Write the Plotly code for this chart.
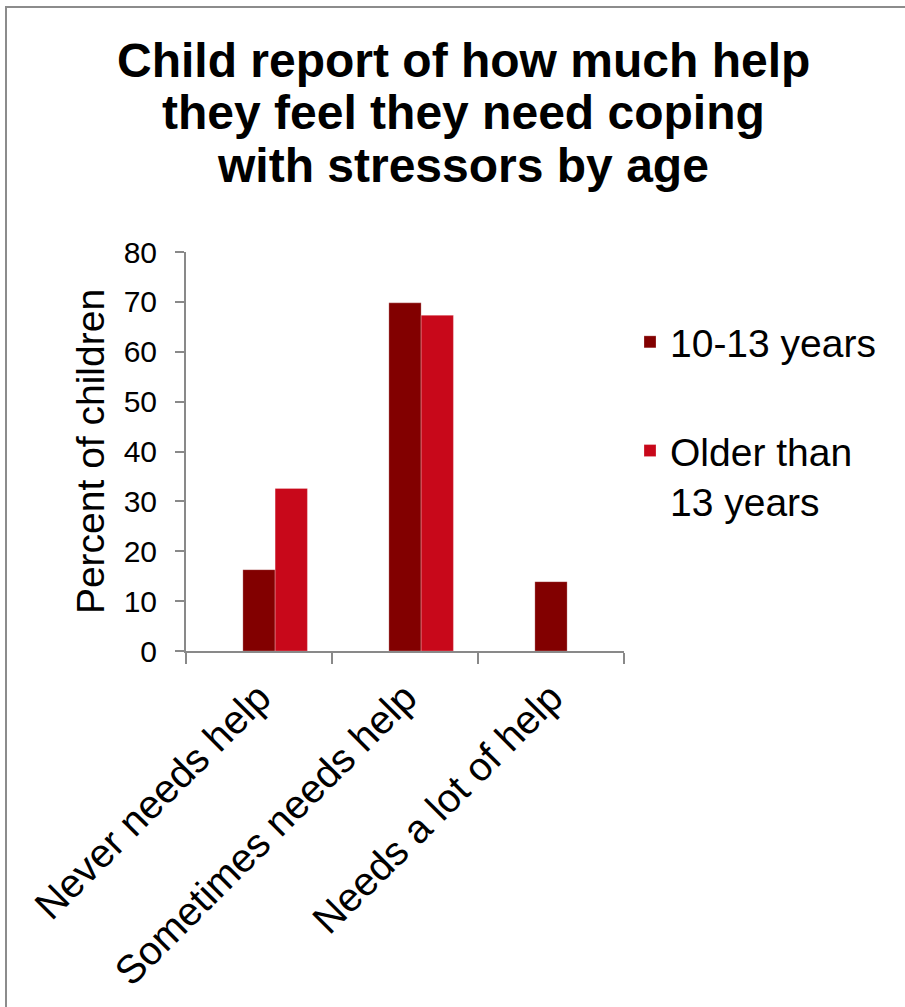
import plotly.graph_objects as go

# ---- data -------------------------------------------------------------
categories = ["Never needs help", "Sometimes needs help", "Needs a lot of help"]
age_10_13 = [16.3, 69.8, 13.9]
older_13 = [32.6, 67.3, None]
series_names = ["10-13 years", "Older than<br>13 years"]
y_ticks = [0, 10, 20, 30, 40, 50, 60, 70, 80]
title_lines = [
    "Child report of how much help",
    "they feel they need coping",
    "with stressors by age",
]

# ---- geometry (pixels) ------------------------------------------------
W, H = 905, 1007
L, R, T, B = 186, 624, 252, 651          # plot area edges
FONT = "Liberation Sans, Arial, Helvetica, sans-serif"
AXIS_GREY = "#898989"
DARK_RED = "#820000"
RED = "#C8081A"


def px_x(p):
    return (p - L) / (R - L)


def px_y(p):
    return (B - p) / (B - T)


bar_w = 0.221
fig = go.Figure()
fig.add_trace(go.Bar(
    x=categories, y=age_10_13, name=series_names[0],
    width=bar_w, offset=-bar_w / 2,
    marker=dict(color=DARK_RED, line=dict(color="rgba(255,255,255,0.25)", width=1)),
    legendgroup="a",
))
fig.add_trace(go.Bar(
    x=categories, y=older_13, name=series_names[1],
    width=bar_w, offset=bar_w / 2,
    marker=dict(color=RED, line=dict(color="rgba(255,255,255,0.25)", width=1)),
    legendgroup="b",
))

# chart title, one annotation per line for tight line spacing
title_y = [60, 113, 166]
annotations = [
    dict(text=t, x=px_x(463), y=px_y(yy), xref="paper", yref="paper",
         xanchor="center", yanchor="middle", showarrow=False,
         font=dict(family=FONT, size=48, color="black", weight="bold"))
    for t, yy in zip(title_lines, title_y)
]

fig.update_layout(
    width=W, height=H,
    margin=dict(l=L, r=W - R, t=T, b=H - B, pad=0),
    paper_bgcolor="white", plot_bgcolor="white",
    barmode="overlay",
    font=dict(family=FONT, color="black"),
    showlegend=True,
    legend=dict(
        x=px_x(630), y=px_y(310), xanchor="left", yanchor="top",
        font=dict(family=FONT, size=39, color="black"),
        traceorder="grouped", tracegroupgap=55, valign="top",
        bgcolor="rgba(0,0,0,0)",
    ),
    annotations=annotations,
    shapes=[dict(
        type="rect", xref="paper", yref="paper",
        x0=px_x(6), x1=px_x(915), y0=px_y(1020), y1=px_y(7),
        line=dict(color="#8c8c8c", width=2), fillcolor="rgba(0,0,0,0)",
        layer="below",
    )],
    xaxis=dict(
        type="category", range=[-0.5, 2.5],
        showline=True, linecolor=AXIS_GREY, linewidth=2,
        ticks="outside", tickson="boundaries", ticklen=11,
        tickwidth=2, tickcolor=AXIS_GREY,
        ticklabelstandoff=5,
        tickangle=-45, tickfont=dict(family=FONT, size=40, color="black"),
        showgrid=False, zeroline=False, automargin=False,
    ),
    yaxis=dict(
        range=[0, 80], tickvals=y_ticks,
        showline=True, linecolor=AXIS_GREY, linewidth=2,
        ticks="outside", ticklen=9, tickwidth=2, tickcolor=AXIS_GREY,
        ticklabelstandoff=12,
        tickfont=dict(family=FONT, size=30, color="black"),
        showgrid=False, zeroline=False, automargin=False,
        title=dict(text="Percent of children", standoff=7,
                   font=dict(family=FONT, size=39, color="black")),
    ),
)

fig.write_html("out.html")
